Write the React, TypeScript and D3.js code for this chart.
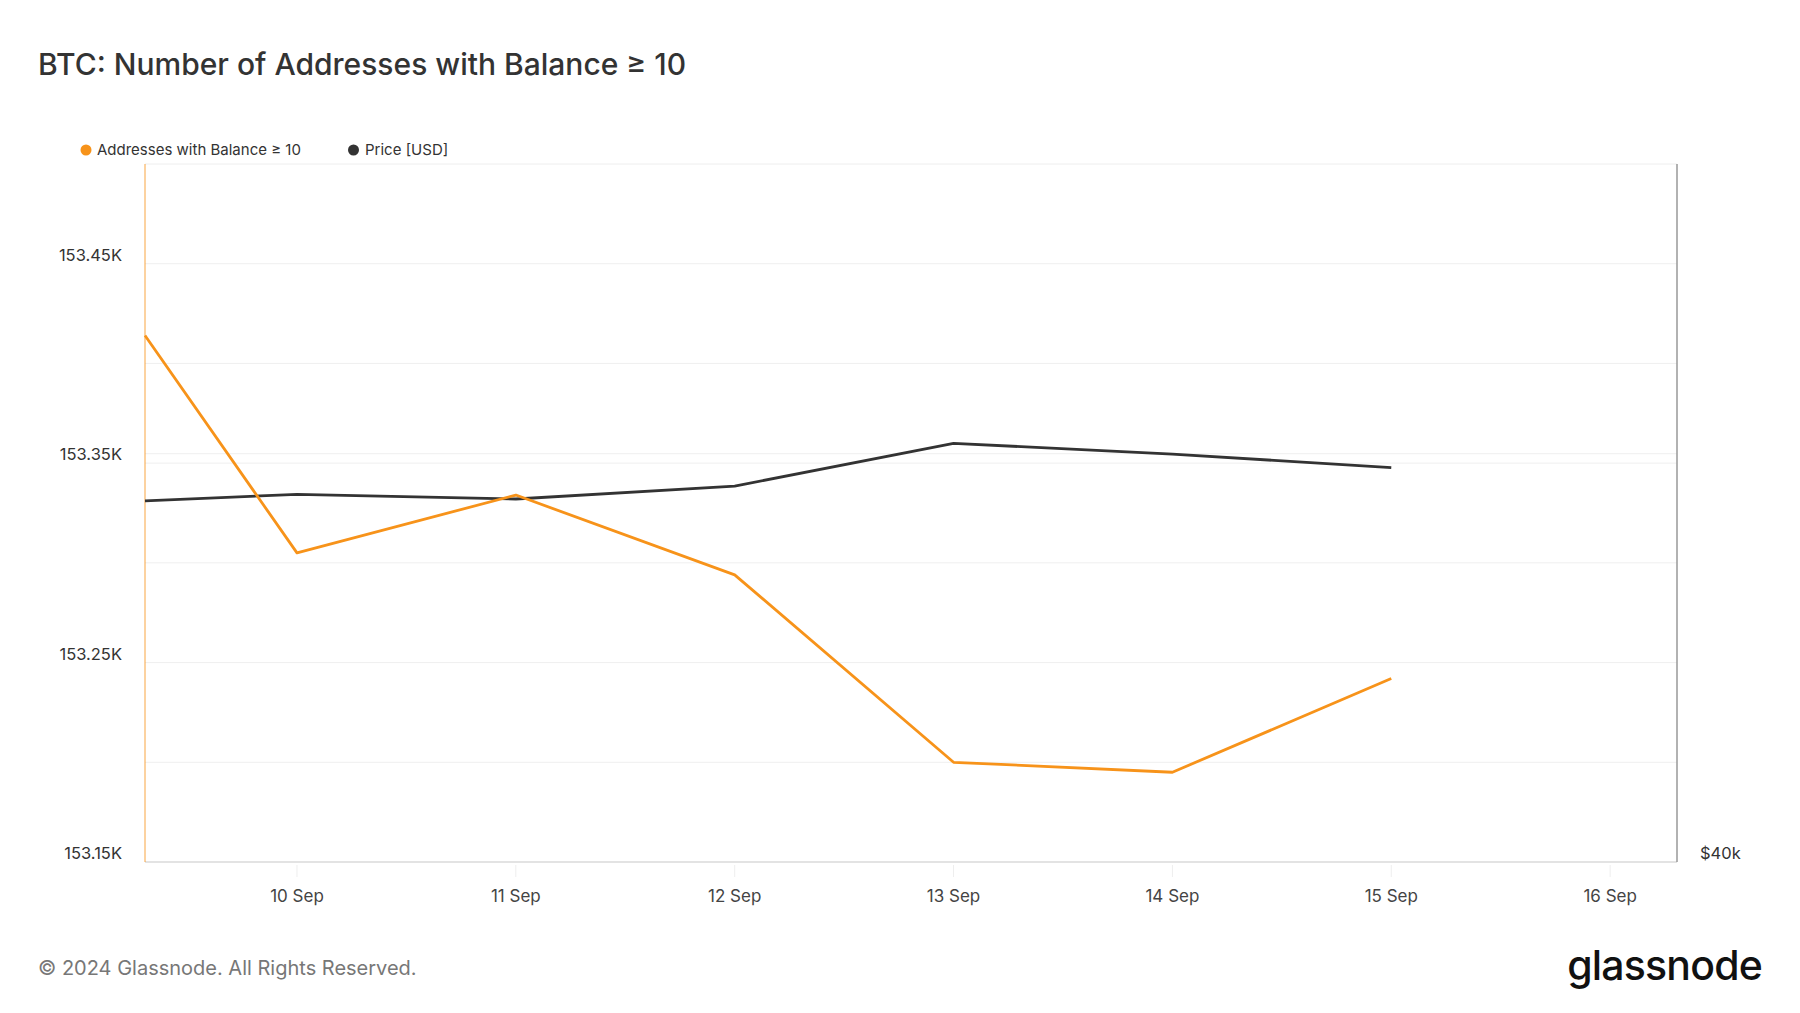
import React from 'react';
import * as d3 from 'd3';

// observation times (first point sits at the left edge of the visible window)
const dates = [
  '2024-09-09T07:20:00Z',
  '2024-09-10T00:00:00Z',
  '2024-09-11T00:00:00Z',
  '2024-09-12T00:00:00Z',
  '2024-09-13T00:00:00Z',
  '2024-09-14T00:00:00Z',
  '2024-09-15T00:00:00Z'
];
const addresses = [153414, 153305, 153334, 153294, 153200, 153195, 153242];
const prices = [57250, 57630, 57360, 58100, 60620, 59980, 59170];

const xTicks = [
  '2024-09-10', '2024-09-11', '2024-09-12', '2024-09-13',
  '2024-09-14', '2024-09-15', '2024-09-16'
];
const leftTicks = [153150, 153250, 153350, 153450];
const leftGrid = [153150, 153200, 153250, 153300, 153350, 153400, 153450];
const rightTicks = [40000];
const rightGrid = [60000];

const W = 1800;
const H = 1013;
const margin = { top: 164, right: 123, bottom: 151, left: 145 };
const ORANGE = '#f7931a';
const DARK = '#333333';
const FONT = 'Inter, "Noto Sans", sans-serif';

const App = () => {
  const innerW = W - margin.left - margin.right;
  const innerH = H - margin.top - margin.bottom;

  const x = d3.scaleUtc()
    .domain([new Date('2024-09-09T07:20:00Z'), new Date('2024-09-16T07:20:00Z')])
    .range([0, innerW]);
  const yLeft = d3.scaleLinear().domain([153150, 153500]).range([innerH, 0]);
  const yRight = d3.scaleLog().domain([40000, 80000]).range([innerH, 0]);

  const pts = dates.map((d, i) => ({ t: new Date(d), a: addresses[i], p: prices[i] }));
  const addrLine = d3.line<any>().x(d => x(d.t)).y(d => yLeft(d.a))(pts);
  const priceLine = d3.line<any>().x(d => x(d.t)).y(d => yRight(d.p))(pts);
  const fmt = d3.utcFormat('%-d %b');

  return (
    <div style={{ position: 'absolute', left: 0, top: 0 }}>
      <svg width={W} height={H} style={{ display: 'block', fontFamily: FONT }}>
        <rect width={W} height={H} fill="#fff" />

        <text x={38} y={75} fontSize={30} fill="#333" fontWeight={500}>
          BTC: Number of Addresses with Balance ≥ 10
        </text>

        {/* legend */}
        <g transform="translate(86, 150)">
          <circle r={5.5} fill={ORANGE} />
          <text x={11} y={5} fontSize={15} fill="#333">Addresses with Balance ≥ 10</text>
          <circle cx={267.5} r={5.5} fill={DARK} />
          <text x={279} y={5} fontSize={15} fill="#333">Price [USD]</text>
        </g>

        <g transform={`translate(${margin.left}, ${margin.top})`}>
          {/* grid */}
          {leftGrid.map(t => (
            <line key={`gl-${t}`} x1={0} x2={innerW} y1={yLeft(t)} y2={yLeft(t)} stroke="#efefef" strokeWidth={1} />
          ))}
          {rightGrid.map(t => (
            <line key={`gr-${t}`} x1={0} x2={innerW} y1={yRight(t)} y2={yRight(t)} stroke="#efefef" strokeWidth={1} />
          ))}
          <line x1={0} x2={innerW} y1={0} y2={0} stroke="#eeeeee" />
          <line x1={0} x2={innerW} y1={innerH} y2={innerH} stroke="#dddddd" strokeWidth={1.5} />

          {/* x ticks */}
          {xTicks.map(d => {
            const px = x(new Date(d + 'T00:00:00Z'));
            return (
              <g key={d} transform={`translate(${px}, ${innerH})`}>
                <line y1={3} y2={15} stroke="#eeeeee" />
                <text y={40} textAnchor="middle" fontSize={17} fill="#444">{fmt(new Date(d + 'T00:00:00Z'))}</text>
              </g>
            );
          })}

          {/* axes lines */}
          <line x1={0} x2={0} y1={0} y2={innerH} stroke={ORANGE} strokeOpacity={0.55} strokeWidth={1.5} />
          <line x1={innerW} x2={innerW} y1={0} y2={innerH} stroke="#999" strokeWidth={1.5} />

          {/* left labels */}
          {leftTicks.map(t => (
            <text key={`lt-${t}`} x={-23} y={yLeft(t) - 9} dominantBaseline="central" textAnchor="end" fontSize={16.5} fill="#333">
              {(t / 1000).toFixed(2)}K
            </text>
          ))}
          {/* right labels */}
          {rightTicks.map(t => (
            <text key={`rt-${t}`} x={23} y={yRight(t) - 9} dominantBaseline="central" textAnchor="start" fontSize={16.5} fill="#333"
              transform={`translate(${innerW}, 0)`}>
              ${t / 1000}k
            </text>
          ))}

          <path d={priceLine || ''} fill="none" stroke={DARK} strokeWidth={2.8} strokeLinejoin="round" />
          <path d={addrLine || ''} fill="none" stroke={ORANGE} strokeWidth={2.8} strokeLinejoin="round" />
        </g>

        <text x={38} y={975} fontSize={20} fill="#777">© 2024 Glassnode. All Rights Reserved.</text>
        <text x={1762} y={980} textAnchor="end" fontSize={41} fontWeight={500} fill="#111" letterSpacing={-0.8}>glassnode</text>
      </svg>
    </div>
  );
};

export default App;
